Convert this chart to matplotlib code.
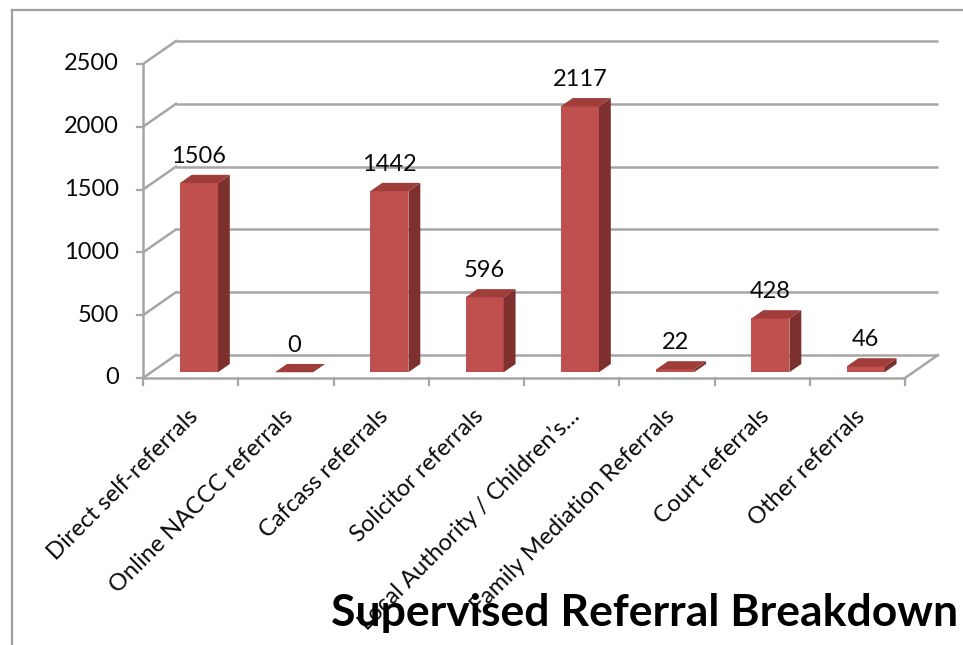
import matplotlib
matplotlib.use("Agg")
import matplotlib.pyplot as plt
from matplotlib.patches import Polygon
from matplotlib.lines import Line2D

# ---- data ----
categories = ["Direct self-referrals", "Online NACCC referrals", "Cafcass referrals",
              "Solicitor referrals", "Local Authority / Children\u2019s\u2026",
              "Family Mediation Referrals", "Court referrals", "Other referrals"]
values = [1506, 0, 1442, 596, 2117, 22, 428, 46]
y_ticks = [0, 500, 1000, 1500, 2000, 2500]
title = "Supervised Referral Breakdown"

# ---- layout (pixels) ----
W, H = 963, 645
PX_X0 = 143.0          # pixel of category -0.5 (front)
CAT_W = 95.25          # pixels per category
PX_Y0 = 378.0          # pixel of value 0 (front)
PX_PER_UNIT = 314.0 / 2500.0
DX = 33.0 / CAT_W      # depth offset (data units)
DY = 23.0 / PX_PER_UNIT
F_FRONT, F_BACK = 0.25, 0.61
BAR_W = 0.40

FRONT = "#C0504D"
SIDE = "#7E302E"
TOP = "#9E3D3A"
GRID = "#A6A6A6"
TXT = "#0A0A0A"

plt.rcParams['font.family'] = ['Lato', 'DejaVu Sans']

fig = plt.figure(figsize=(W / 100, H / 100), dpi=100)
ax = fig.add_axes([0, 0, 1, 1])
ax.set_xlim(-0.5 - PX_X0 / CAT_W, -0.5 + (W - PX_X0) / CAT_W)
ax.set_ylim((PX_Y0 - H) / PX_PER_UNIT, PX_Y0 / PX_PER_UNIT)
ax.axis("off")

# outer frame (top and left edges)
fig.add_artist(Line2D([12 / W, 1.0], [1 - 10 / H, 1 - 10 / H], color="#A0A0A0", lw=1.6))
fig.add_artist(Line2D([12 / W, 12 / W], [1 - 10 / H, 0.0], color="#A0A0A0", lw=1.6))

n = len(categories)
x_left, x_right = -0.5, n - 0.5

# back wall gridlines and side-wall diagonals
for v in y_ticks:
    ax.plot([x_left + DX, x_right + DX], [v + DY, v + DY], color=GRID, lw=1.8, zorder=1,
            solid_capstyle="butt")
    ax.plot([x_left, x_left + DX], [v, v + DY], color=GRID, lw=1.8, zorder=1)
    ax.plot([x_left - 6 / CAT_W, x_left], [v, v], color=GRID, lw=1.6, zorder=1)
    ax.text(x_left - 24 / CAT_W, v, str(v), ha="right", va="center", fontsize=17,
            color=TXT)

# floor: front baseline, right diagonal, front axis line
ax.plot([x_left, x_right], [0, 0], color=GRID, lw=1.8, zorder=1)
ax.plot([x_right, x_right + DX], [0, DY], color=GRID, lw=1.8, zorder=1)
ax.plot([x_left, x_left], [0, y_ticks[-1]], color=GRID, lw=1.8, zorder=1)
for b in range(n + 1):
    ax.plot([b - 0.5, b - 0.5], [0, -7 / PX_PER_UNIT], color=GRID, lw=1.6, zorder=1)

# bars
xs = list(range(n))
fx = [x + F_FRONT * DX for x in xs]
fb = F_FRONT * DY
ddx = (F_BACK - F_FRONT) * DX
ddy = (F_BACK - F_FRONT) * DY
ax.bar(fx, values, width=BAR_W, bottom=fb, color=FRONT, zorder=3, linewidth=0)
for cx, v in zip(fx, values):
    xl, xr = cx - BAR_W / 2, cx + BAR_W / 2
    top = fb + v
    side = Polygon([(xr, fb), (xr + ddx, fb + ddy), (xr + ddx, top + ddy), (xr, top)],
                   closed=True, facecolor=SIDE, edgecolor="none", zorder=3)
    lid = Polygon([(xl, top), (xr, top), (xr + ddx, top + ddy), (xl + ddx, top + ddy)],
                  closed=True, facecolor=TOP, edgecolor="none", zorder=4)
    ax.add_patch(side)
    ax.add_patch(lid)
    ax.text(cx, top + 27 / PX_PER_UNIT, str(v), ha="center", va="center", fontsize=17,
            color=TXT, zorder=5)

# category labels
for x, lab in zip(xs, categories):
    ax.text(x + 4 / CAT_W, -35 / PX_PER_UNIT, lab, rotation=45, rotation_mode="anchor",
            ha="right", va="center", fontsize=17, color=TXT)

# title
ax.text(-0.5 + (958 - PX_X0) / CAT_W, (PX_Y0 - 613) / PX_PER_UNIT, title,
        ha="right", va="center", fontsize=32, fontweight="bold", color="#000000", zorder=6)

fig.savefig("out.png", dpi=100)
